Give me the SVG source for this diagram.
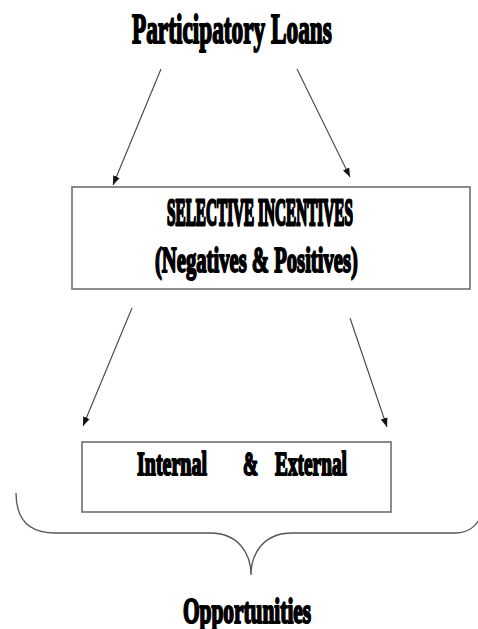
<svg xmlns="http://www.w3.org/2000/svg" width="478" height="629" viewBox="0 0 478 629">
<style>
.t{font-family:"Liberation Serif","Times New Roman",serif;font-weight:bold;fill:#000;stroke:#000;stroke-width:2;stroke-linejoin:round}
.heavy{stroke-width:2.8}
.box{fill:#fff;stroke:#6e6e6e;stroke-width:1.6}
.conn{stroke:#444;stroke-width:1.1;fill:none;marker-end:url(#ah)}
.brace{stroke:#555;stroke-width:1.3;fill:none}
</style>
<defs>
<marker id="ah" markerUnits="userSpaceOnUse" markerWidth="10" markerHeight="8" refX="9" refY="4" orient="auto">
<path d="M0,0.5 L9,4 L0,7.5 Z" fill="#111"/>
</marker>
</defs>
<rect width="478" height="629" fill="#fff"/>
<g id="title">
<text class="t" transform="translate(132,43) scale(0.555,1)" font-size="42" textLength="360" lengthAdjust="spacingAndGlyphs">Participatory Loans</text>
</g>
<g id="selective">
<rect class="box" x="72" y="187" width="398" height="102"/>
<text class="t heavy" transform="translate(167,225) scale(0.40,1)" font-size="38" textLength="465" lengthAdjust="spacingAndGlyphs">SELECTIVE INCENTIVES</text>
<text class="t" transform="translate(155,272) scale(0.573,1)" font-size="36" textLength="354" lengthAdjust="spacingAndGlyphs">(Negatives &amp; Positives)</text>
</g>
<g id="internal-external">
<rect class="box" x="82" y="442" width="309" height="70"/>
<text class="t" transform="translate(137,475) scale(0.606,1)" font-size="33" textLength="115.5" lengthAdjust="spacingAndGlyphs">Internal</text>
<text class="t" transform="translate(243,475) scale(0.55,1)" font-size="33" textLength="27.5" lengthAdjust="spacingAndGlyphs">&amp;</text>
<text class="t" transform="translate(275,475) scale(0.586,1)" font-size="33" textLength="122.8" lengthAdjust="spacingAndGlyphs">External</text>
</g>
<g id="opportunities">
<text class="t" transform="translate(183,623) scale(0.61,1)" font-size="35" textLength="210" lengthAdjust="spacingAndGlyphs">Opportunities</text>
</g>
<g id="connectors">
<line class="conn" x1="161" y1="69" x2="113" y2="185"/>
<line class="conn" x1="297" y1="69" x2="350" y2="177"/>
<line class="conn" x1="132" y1="308" x2="83" y2="426"/>
<line class="conn" x1="350" y1="318" x2="387" y2="427"/>
<path class="brace" d="M16,493 C16,520 30,533 55,533 L210,533 C238,533 251,553 251,575 C251,553 264,533 292,533 L455,533 C470,533 478,525 484,510"/>
</g>
</svg>
